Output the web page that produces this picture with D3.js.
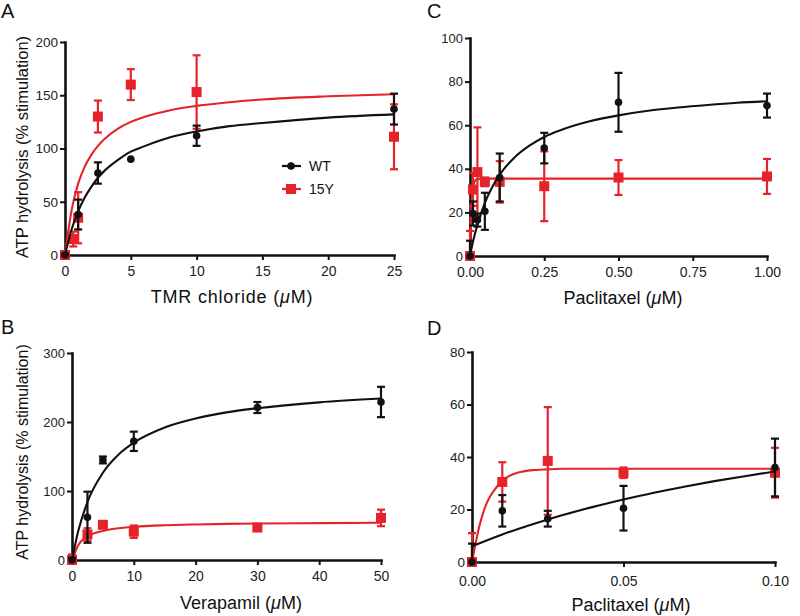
<!DOCTYPE html>
<html>
<head>
<meta charset="utf-8">
<script src="https://cdn.jsdelivr.net/npm/d3@7"></script>
<style>
  html, body { margin: 0; padding: 0; background: #fff; }
  svg { display: block; font-family: "Liberation Sans", Arial, Helvetica, sans-serif; }
</style>
</head>
<body>
<svg id="chart" width="800" height="616"></svg>
<script>
// ---------------- DATA ----------------
const seriesNames = ["WT", "15Y"];

// Panel A: TMR chloride (µM)
const aX_WT   = [0, 1, 2.5, 5, 10, 25];
const aY_WT   = [0, 38, 77, 90, 112, 137];
const aE_WT   = [1, 14, 10, 0, 9.5, 14.5];
const aX_15Y  = [0, 0.625, 1, 2.5, 5, 10, 25];
const aY_15Y  = [0, 15, 35, 130, 160, 153, 111];
const aE_15Y  = [1, 7, 24, 15, 14.5, 34.5, 30.5];
const aFitX      = [0, 0.5, 1, 1.5, 2, 2.5, 3, 4, 5, 6, 8, 10, 12.5, 15, 20, 25];
const aFitY_WT   = [0, 24, 41, 54, 64, 72.5, 79, 89, 97, 102, 110.5, 116, 121, 124, 129, 132];
const aFitY_15Y  = [0, 42, 67, 83, 94, 102.5, 109, 118.5, 125, 129.5, 136, 140, 143.5, 146, 149, 151];
const aXTicks = [0, 5, 10, 15, 20, 25];
const aYTicks = [0, 50, 100, 150, 200];

// Panel B: Verapamil (µM)
const bX_WT   = [0, 2.5, 5, 10, 30, 50];
const bY_WT   = [0, 62, 145, 172, 221, 229];
const bE_WT   = [3, 37, 5, 14, 8, 22];
const bX_15Y  = [0, 2.5, 5, 10, 30, 50];
const bY_15Y  = [0, 37, 51, 41, 47, 61];
const bE_15Y  = [8, 9, 3, 9, 3, 12];
const bFitX      = [0, 1, 2.5, 5, 7.5, 10, 15, 20, 25, 30, 40, 50];
const bFitY_WT   = [0, 41.5, 84, 126.5, 152.5, 170, 192, 205, 214, 220, 228.5, 234];
const bFitY_15Y  = [0, 21.3, 33.9, 42.1, 45.9, 48, 50.3, 51.5, 52.3, 52.9, 53.5, 54];
const bXTicks = [0, 10, 20, 30, 40, 50];
const bYTicks = [0, 100, 200, 300];

// Panel C: Paclitaxel (µM), full range
const cX_WT   = [0, 0.01, 0.025, 0.05, 0.1, 0.25, 0.5, 1];
const cY_WT   = [0, 19.5, 16.5, 20.5, 36, 49.5, 70.5, 69];
const cE_WT   = [7, 5.5, 3, 8.5, 11, 7, 13.5, 5.5];
const cX_15Y  = [0, 0.01, 0.025, 0.05, 0.1, 0.25, 0.5, 1];
const cY_15Y  = [0, 30.5, 38.5, 34, 34, 32, 36, 36.5];
const cE_15Y  = [11.5, 7.5, 20.5, 2, 9.5, 16, 8, 8];
const cFitX_WT   = [0, 0.01, 0.025, 0.05, 0.075, 0.1, 0.15, 0.2, 0.25, 0.3, 0.4, 0.5, 0.6, 0.7, 0.8, 0.9, 1];
const cFitY_WT   = [0, 6.5, 14.4, 24.4, 31.7, 37.3, 45.2, 50.6, 54.6, 57.5, 61.7, 64.5, 66.6, 68.1, 69.3, 70.3, 71];
const cFitX_15Y  = [0, 0.005, 0.01, 0.015, 0.02, 0.03, 0.05, 0.1, 0.25, 0.5, 1];
const cFitY_15Y  = [0, 22.8, 31, 34, 35, 35.4, 35.5, 35.5, 35.5, 35.5, 35.5];
const cXTicks = [0, 0.25, 0.5, 0.75, 1];
const cYTicks = [0, 20, 40, 60, 80, 100];

// Panel D: Paclitaxel (µM), low range
const dX_WT   = [0, 0.01, 0.025, 0.05, 0.1];
const dY_WT   = [0, 19.5, 16.5, 20.5, 36];
const dE_WT   = [7, 6, 3, 8.5, 11];
const dX_15Y  = [0, 0.01, 0.025, 0.05, 0.1];
const dY_15Y  = [0, 30.5, 38.5, 34, 34];
const dE_15Y  = [11, 7.5, 20.5, 2, 9.5];
const dFitX_WT   = [0, 0.01, 0.02, 0.03, 0.04, 0.05, 0.06, 0.07, 0.08, 0.09, 0.1];
const dFitY_WT   = [6, 10.5, 14.4, 17.9, 21, 23.8, 26.4, 28.7, 30.8, 32.7, 34.5];
const dFitX_15Y  = [0, 0.0025, 0.005, 0.0075, 0.01, 0.0125, 0.015, 0.02, 0.025, 0.03, 0.05, 0.1];
const dFitY_15Y  = [0, 14, 22.8, 27.6, 31, 32.9, 34, 35, 35.3, 35.5, 35.5, 35.5];
const dXTicks = [0, 0.05, 0.1];
const dYTicks = [0, 20, 40, 60, 80];

const yTitle = "ATP hydrolysis (% stimulation)";

// ---------------- DRAWING ----------------
const BLACK = "#111111";
const RED = "#e6232b";
const svg = d3.select("#chart");

function zip(xs, ys, es) { return xs.map((x, i) => ({x, y: ys[i], e: es ? es[i] : 0})); }

function panel(p) {
  const g = svg.append("g");
  const x = d3.scaleLinear().domain(p.xDomain).range(p.xRange);
  const y = d3.scaleLinear().domain(p.yDomain).range(p.yRange);

  const xAxis = d3.axisBottom(x).tickValues(p.xTicks).tickFormat(p.xFmt)
    .tickSize(5).tickSizeOuter(0).tickPadding(p.xPad);
  const yAxis = d3.axisLeft(y).tickValues(p.yTicks).tickFormat(d3.format("d"))
    .tickSize(5).tickSizeOuter(0).tickPadding(2);

  const gx = g.append("g").attr("transform", `translate(0,${p.yRange[0]})`).call(xAxis);
  const gy = g.append("g").attr("transform", `translate(${p.xRange[0]},0)`).call(yAxis);
  [gx, gy].forEach((a, k) => {
    a.select(".domain").attr("stroke", BLACK).attr("stroke-width", 2.6).attr("stroke-linecap", "square");
    a.selectAll(".tick line").attr("stroke", BLACK).attr("stroke-width", 2);
    a.selectAll(".tick text").attr("fill", "#222")
      .style("font-size", (k === 0 ? p.xTickFont : p.yTickFont) + "px")
      .style("font-family", '"Liberation Sans", Arial, sans-serif');
  });

  const line = d3.line().x(d => x(d.x)).y(d => y(d.y)).curve(d3.curveMonotoneX);

  function series(pts, fit, color, marker) {
    g.append("path").datum(fit).attr("d", line)
      .attr("fill", "none").attr("stroke", color).attr("stroke-width", 2.1);
    const eb = g.append("g").attr("stroke", color).attr("stroke-width", 2.2);
    pts.filter(d => d.e > 0).forEach(d => {
      const lo = y(Math.max(p.yDomain[0], d.y - d.e)), hi = y(d.y + d.e);
      const cx = x(d.x);
      eb.append("line").attr("x1", cx).attr("x2", cx).attr("y1", lo).attr("y2", hi);
      eb.append("line").attr("x1", cx - 4).attr("x2", cx + 4).attr("y1", hi).attr("y2", hi);
      if (d.y - d.e > p.yDomain[0])
        eb.append("line").attr("x1", cx - 4).attr("x2", cx + 4).attr("y1", lo).attr("y2", lo);
    });
    if (marker === "square") {
      g.append("g").selectAll("rect").data(pts).join("rect")
        .attr("x", d => x(d.x) - 5).attr("y", d => y(d.y) - 5)
        .attr("width", 10).attr("height", 10).attr("fill", color);
    } else {
      g.append("g").selectAll("circle").data(pts).join("circle")
        .attr("cx", d => x(d.x)).attr("cy", d => y(d.y)).attr("r", 3.8).attr("fill", color);
    }
  }

  series(zip(p.x15, p.y15, p.e15), zip(p.fx15, p.fy15), RED, "square");
  series(zip(p.xWT, p.yWT, p.eWT), zip(p.fxWT, p.fyWT), BLACK, "circle");

  // panel letter
  g.append("text").attr("x", p.letterPos[0]).attr("y", p.letterPos[1])
    .style("font-size", "20px").attr("fill", BLACK).text(p.letter);

  // x title
  const xt = g.append("text").attr("x", p.xTitlePos[0]).attr("y", p.xTitlePos[1])
    .attr("text-anchor", "middle").style("font-size", "18px").attr("fill", BLACK)
    .style("letter-spacing", (p.xTitleSpacing || 0) + "px");
  xt.append("tspan").text(p.xTitle + " (");
  xt.append("tspan").style("font-style", "italic").text("\u03BC");
  xt.append("tspan").text("M)");

  if (p.yTitlePos) {
    g.append("text")
      .attr("transform", `translate(${p.yTitlePos[0]},${p.yTitlePos[1]}) rotate(-90)`)
      .attr("text-anchor", "middle").style("font-size", p.yTitleFont + "px").attr("fill", BLACK)
      .text(yTitle);
  }
  return {g, x, y};
}

const A = panel({
  letter: "A", letterPos: [1, 18],
  xDomain: [0, 25], yDomain: [0, 200], xRange: [65, 394], yRange: [255, 42],
  xTicks: aXTicks, yTicks: aYTicks, xFmt: d3.format("d"), xPad: 6, xTickFont: 14, yTickFont: 13.5,
  xWT: aX_WT, yWT: aY_WT, eWT: aE_WT, x15: aX_15Y, y15: aY_15Y, e15: aE_15Y,
  fxWT: aFitX, fyWT: aFitY_WT, fx15: aFitX, fy15: aFitY_15Y,
  xTitle: "TMR chloride", xTitlePos: [232, 303], xTitleSpacing: 0.8,
  yTitlePos: [28, 147], yTitleFont: 16.5
});

// legend in panel A
const leg = A.g.append("g");
seriesNames.forEach((name, i) => {
  const ly = 166 + i * 23;
  const col = i === 0 ? BLACK : RED;
  leg.append("line").attr("x1", 282).attr("x2", 301).attr("y1", ly).attr("y2", ly)
    .attr("stroke", col).attr("stroke-width", 2.2);
  if (i === 0) leg.append("circle").attr("cx", 291).attr("cy", ly).attr("r", 3.8).attr("fill", col);
  else leg.append("rect").attr("x", 286).attr("y", ly - 5).attr("width", 10).attr("height", 10).attr("fill", col);
  leg.append("text").attr("x", 309).attr("y", ly + 5).style("font-size", "14px").attr("fill", BLACK).text(name);
});

panel({
  letter: "B", letterPos: [1, 334],
  xDomain: [0, 50], yDomain: [0, 300], xRange: [72, 381], yRange: [560, 353],
  xTicks: bXTicks, yTicks: bYTicks, xFmt: d3.format("d"), xPad: 6, xTickFont: 14, yTickFont: 13,
  xWT: bX_WT, yWT: bY_WT, eWT: bE_WT, x15: bX_15Y, y15: bY_15Y, e15: bE_15Y,
  fxWT: bFitX, fyWT: bFitY_WT, fx15: bFitX, fy15: bFitY_15Y,
  xTitle: "Verapamil", xTitlePos: [241, 609],
  yTitlePos: [28, 452], yTitleFont: 16
});

panel({
  letter: "C", letterPos: [427, 18],
  xDomain: [0, 1], yDomain: [0, 100], xRange: [470, 767], yRange: [256, 38],
  xTicks: cXTicks, yTicks: cYTicks, xFmt: d3.format(".2f"), xPad: 6, xTickFont: 14, yTickFont: 13,
  xWT: cX_WT, yWT: cY_WT, eWT: cE_WT, x15: cX_15Y, y15: cY_15Y, e15: cE_15Y,
  fxWT: cFitX_WT, fyWT: cFitY_WT, fx15: cFitX_15Y, fy15: cFitY_15Y,
  xTitle: "Paclitaxel", xTitlePos: [623, 304]
});

panel({
  letter: "D", letterPos: [427, 335],
  xDomain: [0, 0.1], yDomain: [0, 80], xRange: [472, 775], yRange: [562, 352],
  xTicks: dXTicks, yTicks: dYTicks, xFmt: d3.format(".2f"), xPad: 9, xTickFont: 14, yTickFont: 13.5,
  xWT: dX_WT, yWT: dY_WT, eWT: dE_WT, x15: dX_15Y, y15: dY_15Y, e15: dE_15Y,
  fxWT: dFitX_WT, fyWT: dFitY_WT, fx15: dFitX_15Y, fy15: dFitY_15Y,
  xTitle: "Paclitaxel", xTitlePos: [631, 611]
});
</script>
</body>
</html>
